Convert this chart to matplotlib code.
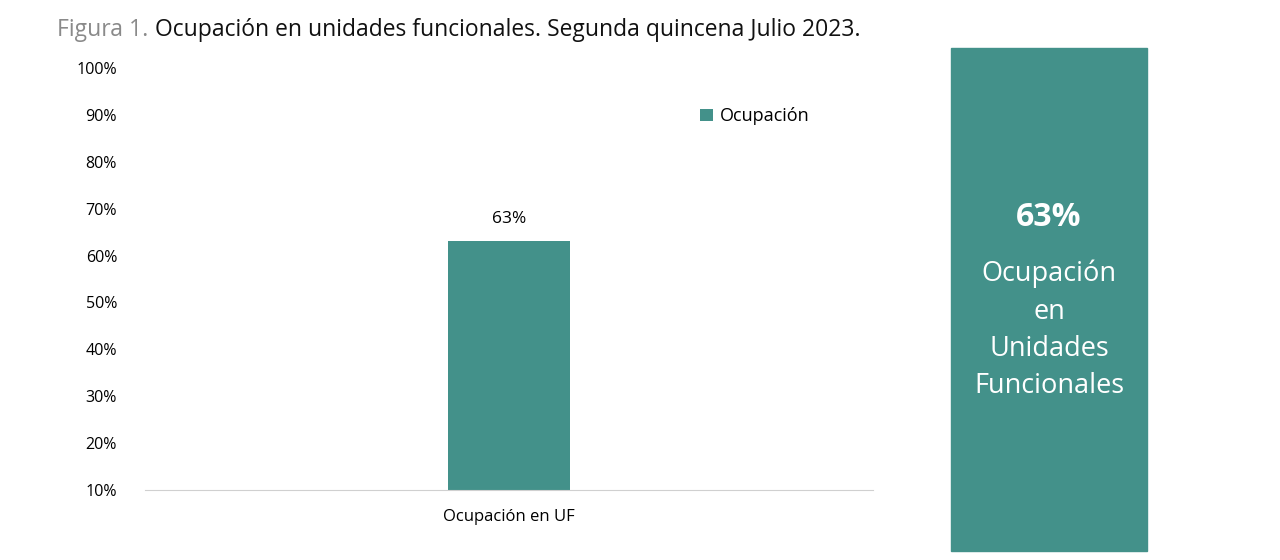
import matplotlib.pyplot as plt
from matplotlib.patches import Rectangle

plt.rcParams['font.family'] = 'Open Sans'

categories = ['Ocupación en UF']
values = [63]
series_name = 'Ocupación'
yticks = [10, 20, 30, 40, 50, 60, 70, 80, 90, 100]
color = '#43918a'

fig = plt.figure(figsize=(12.8, 5.6), dpi=100)
W, H = 1280, 560
ax = fig.add_axes([145 / W, 1 - 490 / H, 728 / W, (490 - 68) / H])

ax.bar([0], values, width=0.168, color=color, label=series_name)
ax.set_xlim(-0.5, 0.5)
ax.set_ylim(10, 100)
ax.set_yticks(yticks)
ax.set_yticklabels([f'{v}%' for v in yticks], fontsize=11.5)
ax.set_xticks([0])
ax.set_xticklabels(categories, fontsize=12)
ax.tick_params(length=0, pad=20)
ax.tick_params(axis='x', pad=14)
for s in ['top', 'right', 'left']:
    ax.spines[s].set_visible(False)
ax.spines['bottom'].set_color('#d0d0d0')
for i, v in enumerate(values):
    ax.text(i, v + 3, f'{v}%', ha='center', va='bottom', fontsize=12.5)
ax.legend(loc='upper left', bbox_to_anchor=(0.74, 0.945), frameon=False,
          fontsize=13, handlelength=0.7, handleheight=0.7, handletextpad=0.4)

t1 = fig.text(57 / W, 1 - 30 / H, 'Figura 1.', color='#8a8a8a', fontsize=16.5, va='center')
fig.canvas.draw()
bb = t1.get_window_extent()
fig.text((bb.x1 + 7) / W, 1 - 30 / H, 'Ocupación en unidades funcionales. Segunda quincena Julio 2023.',
         color='#111111', fontsize=16.5, va='center')

fig.patches.append(Rectangle((951 / W, 1 - 551 / H), 196 / W, 503 / H,
                             transform=fig.transFigure, color=color))
cx = 1049 / W
fig.text(cx, 1 - 218 / H, f'{values[0]}%', color='white', fontsize=23,
         fontweight='bold', ha='center', va='center')
fig.text(cx, 1 - 330 / H, 'Ocupación\nen\nUnidades\nFuncionales', color='white',
         fontsize=19.5, ha='center', va='center', linespacing=1.45)

fig.savefig('out.png')
